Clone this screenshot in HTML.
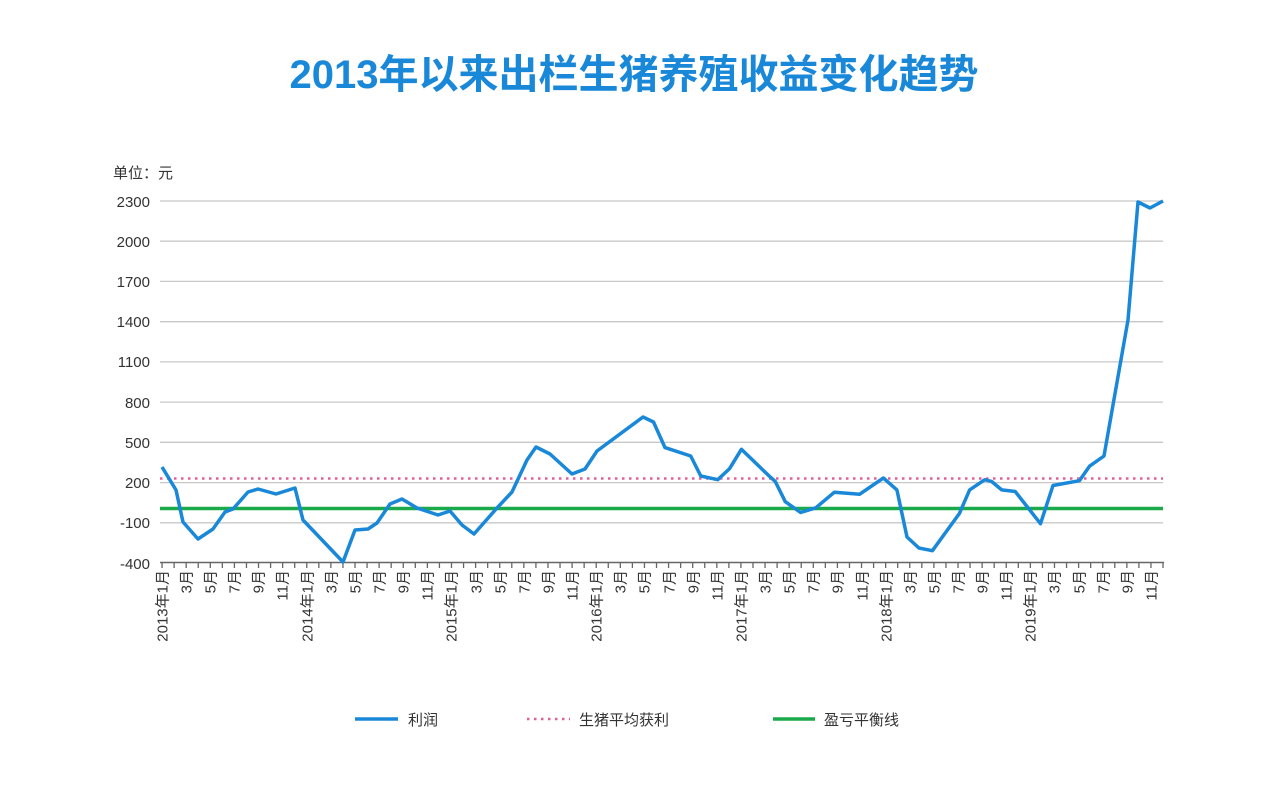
<!DOCTYPE html>
<html><head><meta charset="utf-8"><style>
body{margin:0;background:#fff;}
svg{display:block;font-family:"Liberation Sans","Noto Sans CJK SC",sans-serif;}
</style></head><body>
<svg width="1269" height="787" viewBox="0 0 1269 787">
<text x="634" y="88" text-anchor="middle" font-size="40" font-weight="bold" fill="#1a88d8" font-family="'Liberation Sans','Noto Sans CJK SC',sans-serif">2013年以来出栏生猪养殖收益变化趋势</text>
<text x="113" y="178" font-size="15" fill="#333">单位：元</text>
<g stroke="#c8c8c8" stroke-width="1.3">
<line x1="160" x2="1163" y1="201" y2="201"/><line x1="160" x2="1163" y1="241.2" y2="241.2"/><line x1="160" x2="1163" y1="281.4" y2="281.4"/><line x1="160" x2="1163" y1="321.7" y2="321.7"/><line x1="160" x2="1163" y1="361.9" y2="361.9"/><line x1="160" x2="1163" y1="402.1" y2="402.1"/><line x1="160" x2="1163" y1="442.3" y2="442.3"/><line x1="160" x2="1163" y1="482.6" y2="482.6"/><line x1="160" x2="1163" y1="522.8" y2="522.8"/>
</g>
<g font-size="15" fill="#333" text-anchor="end">
<text x="150" y="207">2300</text><text x="150" y="247">2000</text><text x="150" y="287">1700</text><text x="150" y="327">1400</text><text x="150" y="367">1100</text><text x="150" y="408">800</text><text x="150" y="448">500</text><text x="150" y="488">200</text><text x="150" y="528">-100</text><text x="150" y="569">-400</text>
</g>
<line x1="160" x2="1164" y1="562.5" y2="562.5" stroke="#666" stroke-width="1.5"/>
<line x1="161.4" x2="1165" y1="565" y2="565" stroke="#666" stroke-width="6" stroke-dasharray="1.3 10.76"/>
<line x1="160" x2="1163" y1="478.5" y2="478.5" stroke="#e0609a" stroke-width="2.5" stroke-dasharray="2.5 4.5"/>
<line x1="160" x2="1163" y1="508.5" y2="508.5" stroke="#1aaa4a" stroke-width="3.5"/>
<polyline fill="none" stroke="#1a88d8" stroke-width="3.5" stroke-linejoin="round" points="162,467 176,490 183,522 198,539 213,529 225,512 233,509 248,492 258,489 276,494 295,488 303,520 343,562 355,530 368,529 377,523 390,504 402,499 417,508 438,515 450,511 462,525 474,534 497,508 512,492 527,460 536,447 550,454 572,474 585,469 597,451 643,417 653.5,422 665,447.6 690.7,456 700.8,476 717.7,479.7 729.6,468.6 741.4,449.3 768.4,475.3 775.2,481.4 785.3,501.7 800.6,512.5 815.8,507.8 834.4,492.2 859.7,494.2 883.4,478 896.9,489.9 907,537 918.9,548 932.4,550.7 959.4,513.5 969.6,489.9 984.8,479.7 991.5,481.4 1001.7,489.9 1015.2,491.5 1040.5,523.7 1053,485.5 1079.4,480.7 1089.5,466.2 1104,456 1128,320 1138,202 1150,208 1163,201"/>
<g font-size="15" fill="#333" text-anchor="end">
<text transform="translate(167.5,570) rotate(-90)">2013年1月</text>
<text transform="translate(191.5,570) rotate(-90)">3月</text>
<text transform="translate(215.5,570) rotate(-90)">5月</text>
<text transform="translate(239.5,570) rotate(-90)">7月</text>
<text transform="translate(263.5,570) rotate(-90)">9月</text>
<text transform="translate(287.5,570) rotate(-90)">11月</text>
<text transform="translate(312.5,570) rotate(-90)">2014年1月</text>
<text transform="translate(336.5,570) rotate(-90)">3月</text>
<text transform="translate(360.5,570) rotate(-90)">5月</text>
<text transform="translate(384.5,570) rotate(-90)">7月</text>
<text transform="translate(408.5,570) rotate(-90)">9月</text>
<text transform="translate(432.5,570) rotate(-90)">11月</text>
<text transform="translate(456.5,570) rotate(-90)">2015年1月</text>
<text transform="translate(481.5,570) rotate(-90)">3月</text>
<text transform="translate(505.5,570) rotate(-90)">5月</text>
<text transform="translate(529.5,570) rotate(-90)">7月</text>
<text transform="translate(553.5,570) rotate(-90)">9月</text>
<text transform="translate(577.5,570) rotate(-90)">11月</text>
<text transform="translate(601.5,570) rotate(-90)">2016年1月</text>
<text transform="translate(625.5,570) rotate(-90)">3月</text>
<text transform="translate(649.5,570) rotate(-90)">5月</text>
<text transform="translate(674.5,570) rotate(-90)">7月</text>
<text transform="translate(698.5,570) rotate(-90)">9月</text>
<text transform="translate(722.5,570) rotate(-90)">11月</text>
<text transform="translate(746.5,570) rotate(-90)">2017年1月</text>
<text transform="translate(770.5,570) rotate(-90)">3月</text>
<text transform="translate(794.5,570) rotate(-90)">5月</text>
<text transform="translate(818.5,570) rotate(-90)">7月</text>
<text transform="translate(842.5,570) rotate(-90)">9月</text>
<text transform="translate(867.5,570) rotate(-90)">11月</text>
<text transform="translate(891.5,570) rotate(-90)">2018年1月</text>
<text transform="translate(915.5,570) rotate(-90)">3月</text>
<text transform="translate(939.5,570) rotate(-90)">5月</text>
<text transform="translate(963.5,570) rotate(-90)">7月</text>
<text transform="translate(987.5,570) rotate(-90)">9月</text>
<text transform="translate(1011.5,570) rotate(-90)">11月</text>
<text transform="translate(1035.5,570) rotate(-90)">2019年1月</text>
<text transform="translate(1059.5,570) rotate(-90)">3月</text>
<text transform="translate(1084.5,570) rotate(-90)">5月</text>
<text transform="translate(1108.5,570) rotate(-90)">7月</text>
<text transform="translate(1132.5,570) rotate(-90)">9月</text>
<text transform="translate(1156.5,570) rotate(-90)">11月</text>
</g>
<line x1="355" x2="398" y1="719" y2="719" stroke="#1a88d8" stroke-width="3.5"/>
<text x="408" y="725" font-size="15" fill="#333">利润</text>
<line x1="527" x2="570" y1="719" y2="719" stroke="#e0609a" stroke-width="2.5" stroke-dasharray="2.5 4.5"/>
<text x="579" y="725" font-size="15" fill="#333">生猪平均获利</text>
<line x1="773" x2="815" y1="719" y2="719" stroke="#1aaa4a" stroke-width="3.5"/>
<text x="824" y="725" font-size="15" fill="#333">盈亏平衡线</text>
</svg>
</body></html>
